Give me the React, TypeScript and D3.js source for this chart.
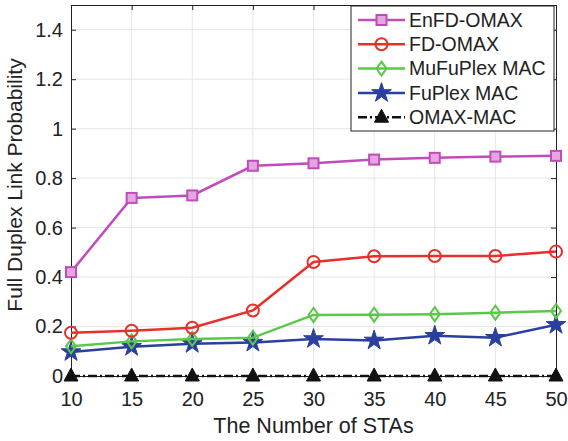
import React, { useEffect, useRef } from "react";
import * as d3 from "d3";

const xValues = [10, 15, 20, 25, 30, 35, 40, 45, 50];
const enfdOmax = [0.42, 0.72, 0.73, 0.85, 0.86, 0.875, 0.882, 0.887, 0.89];
const fdOmax = [0.175, 0.183, 0.195, 0.265, 0.461, 0.484, 0.485, 0.485, 0.503];
const muFuPlex = [0.12, 0.14, 0.15, 0.155, 0.247, 0.248, 0.25, 0.256, 0.263];
const fuPlex = [0.097, 0.118, 0.13, 0.135, 0.15, 0.144, 0.163, 0.155, 0.207];
const omaxMac = [0, 0, 0, 0, 0, 0, 0, 0, 0];
const yTicks = [0, 0.2, 0.4, 0.6, 0.8, 1, 1.2, 1.4];

const series = [
  { name: "EnFD-OMAX", values: enfdOmax, color: "#c04cbc", marker: "square", dash: null },
  { name: "FD-OMAX", values: fdOmax, color: "#e8302a", marker: "circle", dash: null },
  { name: "MuFuPlex MAC", values: muFuPlex, color: "#5cc84a", marker: "diamond", dash: null },
  { name: "FuPlex MAC", values: fuPlex, color: "#2a3f9e", marker: "star", dash: null },
  { name: "OMAX-MAC", values: omaxMac, color: "#111111", marker: "triangle", dash: "9,3,2,3" },
];

const App = () => {
  const ref = useRef<SVGSVGElement>(null);

  useEffect(() => {
    const width = 568;
    const height = 441;
    const margin = { top: 5, right: 12, bottom: 65, left: 71 };

    const svg = d3.select(ref.current);
    svg.selectAll("*").remove();

    const x = d3.scaleLinear().domain([10, 50]).range([margin.left, width - margin.right]);
    const y = d3.scaleLinear().domain([0, 1.5]).range([height - margin.bottom, margin.top]);
    const font = "Liberation Sans, Arial, sans-serif";

    // grid
    const grid = svg.append("g").attr("stroke", "#e6e6e6").attr("stroke-width", 1);
    xValues.slice(1, -1).forEach(v => {
      grid.append("line").attr("x1", x(v)).attr("x2", x(v)).attr("y1", y(0)).attr("y2", y(1.5));
    });
    yTicks.slice(1).forEach(v => {
      grid.append("line").attr("x1", x(10)).attr("x2", x(50)).attr("y1", y(v)).attr("y2", y(v));
    });

    // axes (MATLAB style, inward ticks)
    const axisG = svg.append("g");
    axisG.append("g")
      .attr("transform", `translate(0,${y(0)})`)
      .call(d3.axisBottom(x).tickValues(xValues).tickSize(-5).tickPadding(16).tickFormat(d3.format("d")));
    axisG.append("g")
      .attr("transform", `translate(0,${y(1.5)})`)
      .call(d3.axisTop(x).tickValues(xValues).tickSize(-5).tickFormat(() => ""));
    axisG.append("g")
      .attr("transform", `translate(${x(10)},0)`)
      .call(d3.axisLeft(y).tickValues(yTicks).tickSize(-5).tickPadding(8).tickFormat(d => `${+d}`));
    axisG.append("g")
      .attr("transform", `translate(${x(50)},0)`)
      .call(d3.axisRight(y).tickValues(yTicks).tickSize(-5).tickFormat(() => ""));
    axisG.selectAll("g").attr("font-family", font).attr("font-size", 20);
    axisG.selectAll(".domain").attr("stroke", "#222");
    axisG.selectAll(".tick line").attr("stroke", "#222");
    axisG.selectAll("text").attr("fill", "#222");

    const starPath = d3.symbol().type(d3.symbolStar).size(120);
    const drawMarker = (g: any, s: any, cx: number, cy: number) => {
      if (s.marker === "square") {
        g.append("rect").attr("x", cx - 5).attr("y", cy - 5).attr("width", 10).attr("height", 10)
          .attr("fill", "#e3a6e0").attr("stroke", s.color).attr("stroke-width", 2);
      } else if (s.marker === "circle") {
        g.append("circle").attr("cx", cx).attr("cy", cy).attr("r", 6)
          .attr("fill", "none").attr("stroke", s.color).attr("stroke-width", 2);
      } else if (s.marker === "diamond") {
        g.append("path").attr("d", `M${cx},${cy - 7}L${cx + 5},${cy}L${cx},${cy + 7}L${cx - 5},${cy}Z`)
          .attr("fill", "none").attr("stroke", s.color).attr("stroke-width", 2);
      } else if (s.marker === "star") {
        g.append("path").attr("d", starPath()).attr("transform", `translate(${cx},${cy})`)
          .attr("fill", s.color).attr("stroke", s.color).attr("stroke-width", 1);
      } else {
        g.append("path").attr("d", `M${cx},${cy - 8}L${cx + 7},${cy + 5}L${cx - 7},${cy + 5}Z`)
          .attr("fill", s.color).attr("stroke", s.color).attr("stroke-width", 1);
      }
    };

    const line = d3.line<number>().x((_, i) => x(xValues[i])).y(d => y(d));
    const plot = svg.append("g");
    [...series].reverse().forEach(s => {
      plot.append("path")
        .attr("d", line(s.values))
        .attr("fill", "none")
        .attr("stroke", s.color)
        .attr("stroke-width", 2.5)
        .attr("stroke-dasharray", s.dash);
      s.values.forEach((v, i) => drawMarker(plot, s, x(xValues[i]), y(v)));
    });

    // legend
    const legend = svg.append("g").attr("font-family", font).attr("font-size", 19.5);
    legend.append("rect").attr("x", 351).attr("y", 6).attr("width", 203).attr("height", 125)
      .attr("fill", "white").attr("stroke", "#222").attr("stroke-width", 1);
    series.forEach((s, i) => {
      const cy = 20 + i * 24.3;
      legend.append("line").attr("x1", 358).attr("x2", 405).attr("y1", cy).attr("y2", cy)
        .attr("stroke", s.color).attr("stroke-width", 2.5).attr("stroke-dasharray", s.dash);
      drawMarker(legend, s, 381.5, cy);
      legend.append("text").attr("x", 409).attr("y", cy).attr("dy", "0.35em")
        .attr("fill", "#222").text(s.name);
    });

    // axis titles
    svg.append("text")
      .attr("x", (x(10) + x(50)) / 2).attr("y", 433)
      .attr("text-anchor", "middle").attr("font-family", font).attr("font-size", 21.5).attr("fill", "#222")
      .text("The Number of STAs");
    svg.append("text")
      .attr("transform", `translate(22,185) rotate(-90)`)
      .attr("text-anchor", "middle").attr("font-family", font).attr("font-size", 21).attr("fill", "#222")
      .text("Full Duplex Link Probability");
  }, []);

  return (
    <svg ref={ref} width={568} height={441}
      style={{ position: "absolute", left: 0, top: 0, background: "white" }} />
  );
};

export default App;
